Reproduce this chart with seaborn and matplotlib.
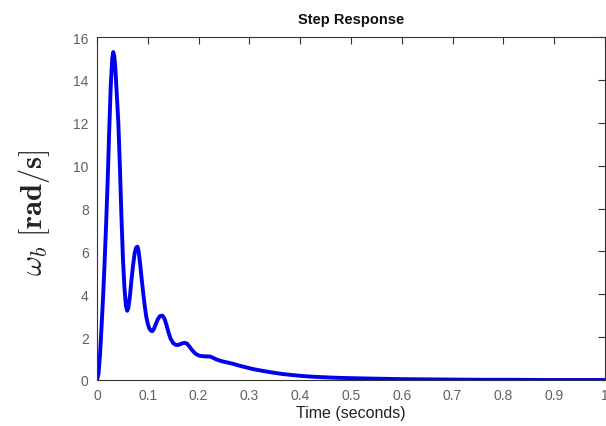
import matplotlib
matplotlib.use("Agg")
import matplotlib.pyplot as plt
import seaborn as sns
import pandas as pd

# Step response of rotor speed omega_b (rad/s) versus time (s)
time_s = [0.000, 0.003, 0.006, 0.009, 0.012, 0.015, 0.018, 0.021, 0.024, 0.027,
          0.030, 0.032, 0.034, 0.036, 0.039, 0.042, 0.045, 0.048, 0.051, 0.054,
          0.057, 0.0595, 0.062, 0.065, 0.068, 0.071, 0.074, 0.077, 0.0797, 0.082,
          0.085, 0.088, 0.091, 0.094, 0.097, 0.100, 0.103, 0.106, 0.109, 0.112,
          0.116, 0.120, 0.124, 0.129, 0.133, 0.137, 0.141, 0.145, 0.150, 0.155,
          0.159, 0.164, 0.169, 0.173, 0.177, 0.182, 0.187, 0.192, 0.197, 0.202,
          0.208, 0.214, 0.219, 0.223, 0.228, 0.235, 0.245, 0.256, 0.267, 0.280,
          0.295, 0.307, 0.325, 0.345, 0.365, 0.385, 0.398, 0.420, 0.445, 0.476,
          0.510, 0.555, 0.600, 0.650, 0.700, 0.760, 0.820, 0.880, 0.940, 1.000]
omega_b = [0.00, 0.30, 1.20, 2.50, 3.90, 5.50, 7.30, 9.30, 11.60, 13.70,
           15.00, 15.30, 15.10, 14.60, 13.30, 12.00, 10.00, 7.70, 5.70, 4.30,
           3.45, 3.23, 3.40, 3.95, 4.70, 5.35, 5.90, 6.18, 6.22, 6.00,
           5.40, 4.70, 4.05, 3.45, 2.95, 2.62, 2.40, 2.30, 2.28, 2.38,
           2.62, 2.85, 2.98, 3.00, 2.85, 2.55, 2.20, 1.92, 1.72, 1.64,
           1.63, 1.67, 1.72, 1.73, 1.70, 1.56, 1.40, 1.27, 1.18, 1.13,
           1.11, 1.10, 1.10, 1.09, 1.04, 0.96, 0.88, 0.82, 0.76, 0.67,
           0.58, 0.51, 0.43, 0.35, 0.28, 0.23, 0.20, 0.16, 0.13, 0.10,
           0.08, 0.06, 0.04, 0.03, 0.02, 0.01, 0.01, 0.00, 0.00, 0.00]

x_ticks = [0, 0.1, 0.2, 0.3, 0.4, 0.5, 0.6, 0.7, 0.8, 0.9, 1]
x_tick_labels = ["0", "0.1", "0.2", "0.3", "0.4", "0.5", "0.6", "0.7", "0.8", "0.9", "1"]
y_ticks = [0, 2, 4, 6, 8, 10, 12, 14, 16]

df = pd.DataFrame({"Time": time_s, "omega": omega_b})

sns.set_theme(style="white")
plt.rcParams["font.family"] = ["Liberation Sans", "DejaVu Sans"]
plt.rcParams["mathtext.fontset"] = "cm"

fig = plt.figure(figsize=(6.06, 4.27), dpi=100)
ax = fig.add_axes([97 / 606, 46 / 427, 508 / 606, 343 / 427])

sns.lineplot(data=df, x="Time", y="omega", ax=ax, color="#0000f0",
             linewidth=2.8, sort=False, estimator=None)

ax.set_xlim(0, 1)
ax.set_ylim(0, 16)
ax.set_xticks(x_ticks)
ax.set_xticklabels(x_tick_labels)
ax.set_yticks(y_ticks)

tick_grey = "#606060"
ax.tick_params(axis="both", direction="in", length=5, width=0.8,
               colors="#333333", labelcolor=tick_grey, labelsize=10,
               top=True, right=True, pad=6)
for side in ax.spines.values():
    side.set_color("#333333")
    side.set_linewidth(0.8)

ax.set_title("Step Response", fontsize=10.5, fontweight="bold", color="#111111", pad=10)
ax.set_xlabel("Time (seconds)", fontsize=11.5, color="#222222", labelpad=2)
ax.set_ylabel(r"$\omega_b\ \mathbf{[rad/s]}$", fontsize=22, color="#222222")
ax.yaxis.set_label_coords(-0.088, 0.49)

fig.savefig("out.png", dpi=100)
